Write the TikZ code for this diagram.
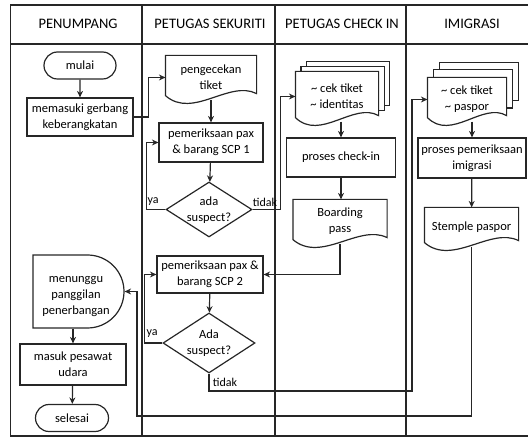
\documentclass[tikz,border=0pt]{standalone}
\usepackage{fontspec}
\setmainfont{Carlito}
\usetikzlibrary{arrows.meta,shapes.misc,shapes.geometric,calc,backgrounds}

\newcommand\docdraw[1]{%
  \draw[shapeline, fill=white] (#1.north west) -- (#1.north east) -- ($(#1.south east)+(0,-6)$)
    .. controls ($(#1.south east)!0.3!(#1.south west)+(0,-20)$) and ($(#1.south west)!0.3!(#1.south east)+(0,20)$) ..
    ($(#1.south west)+(0,-4)$) -- cycle;}
\newcommand\backpage[3]{%
  \draw[shapeline, fill=white] ($(#1.north west)+(#2,#3)$) rectangle ($(#1.south east)+(#2,#3-6)$);}

\begin{document}
\begin{tikzpicture}[x=1pt,y=-1pt, line width=1.2pt, draw=black!85, text=black,
  shapeline/.style={line width=1.2pt, draw=black!85},
  arr/.style={-{Stealth[length=6.5pt,width=6pt]}},
  box/.style={draw, rectangle, align=center, inner sep=0pt, font=\fontsize{12.5}{16}\selectfont},
  docn/.style={rectangle, align=center, inner sep=0pt, font=\fontsize{12.5}{16}\selectfont},
  term/.style={draw, rounded rectangle, inner sep=0pt, font=\fontsize{12.5}{16}\selectfont},
  delayshape/.style={draw, rounded rectangle, rounded rectangle left arc=none, inner sep=0pt},
  dia/.style={draw, diamond, inner sep=0pt},
  txt/.style={align=center, inner sep=0pt, font=\fontsize{12.5}{16}\selectfont},
  lbl/.style={inner sep=0pt, font=\fontsize{12}{14}\selectfont},
  hdr/.style={inner sep=0pt, font=\fontsize{14.5}{17}\selectfont}]
\useasboundingbox (0,0) rectangle (528,438);

% frame and lanes
\draw (528,5) -- (10.5,5) -- (10.5,436) -- (528,436);
\draw (10.5,44) -- (528,44);
\draw (142,5) -- (142,436);
\draw (275,5) -- (275,436);
\draw (406,5) -- (406,436);

\node[hdr, anchor=base] (h1) at (78,28.5) {PENUMPANG};
\node[hdr, anchor=base] (h2) at (210,28.5) {PETUGAS SEKURITI};
\node[hdr, anchor=base] (h3) at (342,28.5) {PETUGAS CHECK IN};
\node[hdr, anchor=base] (h4) at (472,28.5) {IMIGRASI};

% PENUMPANG
\node[term, minimum width=72pt, minimum height=27pt] (mulai) at (80,65.5) {mulai};
\node[box, minimum width=106pt, minimum height=38pt] (gerbang) at (80,117) {memasuki gerbang\\keberangkatan};
\node[delayshape, minimum width=91pt, minimum height=73pt] (tunggu) at (78.5,291.5) {};
\node[txt] (tunggut) at (76,297) {menunggu\\panggilan\\penerbangan};
\node[box, minimum width=106pt, minimum height=41pt] (pesawat) at (73,364.5) {masuk pesawat\\udara};
\node[term, minimum width=73pt, minimum height=27pt] (selesai) at (72,418) {selesai};

% SEKURITI
\node[docn, minimum width=90pt, minimum height=43pt] (peng) at (211,77.5) {pengecekan\\tiket};
\node[box, minimum width=104pt, minimum height=39pt] (scp1) at (211,142.5) {pemeriksaan pax\\\& barang SCP 1};
\node[dia, minimum width=86pt, minimum height=55pt] (dia1) at (209,209.5) {};
\node[txt] (dia1t) at (209,210) {ada\\suspect?};
\node[box, minimum width=106pt, minimum height=37pt] (scp2) at (210,274.5) {pemeriksaan pax \&\\barang SCP 2};
\node[dia, minimum width=92pt, minimum height=60pt] (dia2) at (209,343) {};
\node[txt] (dia2t) at (209,343) {Ada\\suspect?};
\node[lbl] (ya1) at (153,202) {ya};
\node[lbl] (tidak1) at (265,202) {tidak};
\node[lbl] (ya2) at (152,334) {ya};
\node[lbl] (tidak2) at (225,382) {tidak};

% CHECK IN
\node[docn, minimum width=82pt, minimum height=49pt] (cekA) at (337,96.5) {\textasciitilde{} cek tiket\\\textasciitilde{} identitas};
\node[box, minimum width=109pt, minimum height=39pt] (procC) at (341,157.5) {proses check-in};
\node[docn, minimum width=93pt, minimum height=43pt] (bp) at (340,221.5) {Boarding\\pass};

% IMIGRASI
\node[docn, minimum width=78pt, minimum height=43pt] (cekI) at (467,99.5) {\textasciitilde{} cek tiket\\\textasciitilde{} paspor};
\node[box, minimum width=108pt, minimum height=40pt] (procI) at (472,158) {proses pemeriksaan\\imigrasi};
\node[docn, minimum width=93pt, minimum height=38pt] (stemp) at (471.5,227) {Stemple paspor};

\begin{scope}[on background layer]
  \docdraw{peng}
  \docdraw{bp}
  \docdraw{stemp}
  \backpage{cekA}{11}{-10}
  \backpage{cekA}{5.5}{-5}
  \docdraw{cekA}
  \backpage{cekI}{12}{-15}
  \backpage{cekI}{6}{-7.5}
  \docdraw{cekI}
\end{scope}

\coordinate (t2) at (412,391);
\coordinate (t3) at (137,416);

% connectors
\draw[arr] (mulai) -- (gerbang);
\draw[arr] (gerbang.east) -- ++(15,0) |- (peng.west);
\draw[arr] (peng) -- (scp1);
\draw[arr] (scp1) -- (dia1);
\draw[arr] (dia1.west) -- ++(-19,0) |- (scp1.west);
\draw[arr] (dia1.east) -- ++(28,0) |- (cekA.west);
\draw[arr] (procC.north |- cekA.south) -- (procC.north);
\draw[arr] (procC.south) -- (procC.south |- bp.north);
\draw[arr] (bp.south) |- (scp2.east);
\draw[arr] (scp2) -- (dia2);
\draw[arr] (dia2.west) -- ++(-18,0) |- (scp2.west);
\draw[arr] (dia2.south) |- (t2) |- (cekI.west);
\draw[arr] (procI.north |- cekI.south) -- (procI.north);
\draw[arr] (procI) -- (stemp);
\draw[arr] (stemp.south) |- (t3) |- (tunggu.east);
\draw[arr] (tunggu.south -| pesawat.north) -- (pesawat.north);
\draw[arr] (pesawat) -- (selesai);
\end{tikzpicture}
\end{document}
